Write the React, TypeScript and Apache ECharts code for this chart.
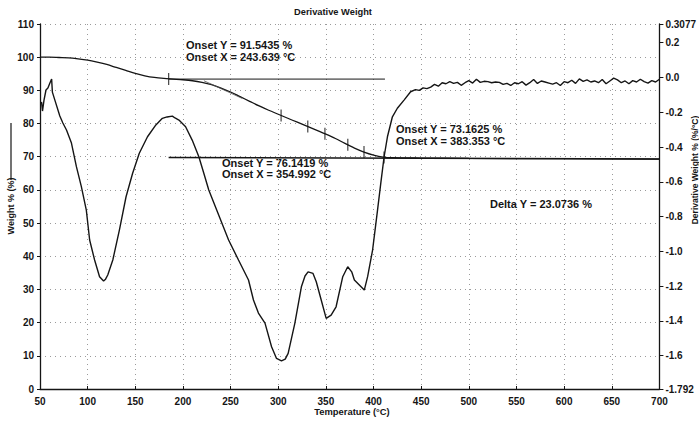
import { useEffect, useRef } from "react";
import * as echarts from "echarts";

// Thermogravimetric curve: temperature (°C) vs remaining weight (%)
const weightTemp = [50, 60, 70, 80, 90, 100, 110, 120, 130, 140, 150, 160, 170, 180, 190, 200, 210, 220, 230, 240, 250, 260, 270, 280, 290, 300, 310, 320, 330, 340, 350, 360, 370, 380, 390, 400, 410, 420, 450, 500, 600, 700];
const weightPct = [100, 100, 99.9, 99.8, 99.5, 99.1, 98.5, 97.8, 96.9, 96.0, 95.1, 94.4, 93.9, 93.6, 93.4, 93.2, 92.9, 92.4, 91.7, 90.7, 89.5, 88.1, 86.7, 85.3, 84.0, 82.8, 81.6, 80.4, 79.2, 78.0, 76.8, 75.5, 74.0, 72.6, 71.4, 70.5, 69.9, 69.7, 69.6, 69.5, 69.4, 69.3];

// Derivative weight curve (%/°C)
const derivTemp = [51.6, 52.6, 54.2, 56.3, 58.3, 60.4, 62.2, 63.0, 65.6, 70.8, 74.0, 77.8, 83.0, 88.2, 93.4, 98.6, 102.1, 107.3, 112.5, 116.7, 118.8, 121.1, 126.4, 133.3, 140.3, 147.2, 154.2, 162.8, 171.6, 178.4, 183.3, 188.9, 191.7, 195.8, 202.8, 209.7, 216.7, 221.9, 227.1, 237.5, 247.9, 258.3, 268.8, 274.0, 279.2, 286.1, 293.0, 298.2, 303.4, 307.3, 310.4, 317.4, 324.3, 328.1, 331.3, 336.5, 339.9, 345.1, 350.3, 355.5, 360.7, 367.7, 372.9, 377.1, 379.9, 385.1, 390.3, 393.8, 399.0, 404.2, 407.6, 411.1, 414.6, 419.8, 425.0, 432.0, 438.9, 444, 448, 452, 456, 460, 464, 468, 472, 476, 480, 484, 488, 492, 496, 500, 504, 508, 512, 516, 520, 524, 528, 532, 536, 540, 544, 548, 552, 556, 560, 564, 568, 572, 576, 580, 584, 588, 592, 596, 600, 604, 608, 612, 616, 620, 624, 628, 632, 636, 640, 644, 648, 652, 656, 660, 664, 668, 672, 676, 680, 684, 688, 692, 696, 700];
const derivValue = [-0.14, -0.193, -0.13, -0.072, -0.061, -0.032, -0.009, -0.084, -0.13, -0.222, -0.262, -0.302, -0.377, -0.513, -0.628, -0.763, -0.935, -1.05, -1.146, -1.171, -1.16, -1.136, -1.05, -0.878, -0.686, -0.551, -0.436, -0.341, -0.273, -0.235, -0.227, -0.222, -0.233, -0.245, -0.283, -0.36, -0.456, -0.551, -0.647, -0.791, -0.935, -1.05, -1.165, -1.28, -1.355, -1.413, -1.549, -1.616, -1.63, -1.62, -1.587, -1.414, -1.204, -1.142, -1.118, -1.127, -1.175, -1.28, -1.386, -1.367, -1.319, -1.146, -1.089, -1.118, -1.165, -1.194, -1.223, -1.146, -0.993, -0.763, -0.609, -0.456, -0.341, -0.226, -0.177, -0.13, -0.082, -0.07, -0.074, -0.06, -0.064, -0.055, -0.04, -0.05, -0.03, -0.036, -0.024, -0.034, -0.028, -0.045, -0.03, -0.018, -0.032, -0.01, -0.028, -0.022, -0.024, -0.03, -0.026, -0.028, -0.04, -0.034, -0.046, -0.03, -0.036, -0.024, -0.044, -0.03, -0.012, -0.034, -0.02, -0.026, -0.032, -0.038, -0.03, -0.046, -0.024, -0.03, -0.016, -0.034, -0.008, -0.022, -0.014, -0.026, -0.02, -0.03, -0.012, -0.036, -0.02, -0.004, -0.014, -0.03, -0.02, -0.036, -0.018, -0.026, -0.01, -0.024, -0.032, -0.018, -0.026, -0.01];

// Onset construction lines (baselines and first-step tangent)
const baselineUpperTemp = [185, 412];
const baselineUpperPct = [93.4, 93.4];
const baselineLowerTemp = [185, 700];
const baselineLowerPct = [69.8, 69.3];
const tangentTemp = [222, 262];
const tangentPct = [92.9, 87.6];

// Cursor marks along the weight curve
const markTemp = [185, 303, 331, 349, 373, 390, 411];
const markPct = [93.4, 82.4, 79.1, 76.9, 73.6, 71.4, 69.8];

// Axis ticks
const rightTicks = [0.3077, 0.2, 0, -0.2, -0.4, -0.6, -0.8, -1.0, -1.2, -1.4, -1.6, -1.792];
const rightMin = -1.792;
const rightMax = 0.3077;

const titleText = "Derivative Weight";
const xName = "Temperature (°C)";
const leftName = "Weight % (%)";
const rightName = "Derivative Weight % (%/°C)";
const onsetTexts = [
  ["Onset Y = 91.5435 %", "Onset X = 243.639 °C"],
  ["Onset Y = 73.1625 %", "Onset X = 383.353 °C"],
  ["Onset Y = 76.1419 %", "Onset X = 354.992 °C"],
];
const deltaText = "Delta Y = 23.0736 %";

const zip = (a: number[], b: number[]) => a.map((v, i) => [v, b[i]]);

const FONT = "Liberation Sans, Arial, sans-serif";
const INK = "#151515";

export default function App() {
  const ref = useRef<HTMLDivElement>(null);

  useEffect(() => {
    if (!ref.current) return;
    const chart = echarts.init(ref.current, null, { renderer: "svg" });

    const labelStyle = { color: INK, fontSize: 10, fontWeight: "bold" as const, fontFamily: FONT };
    const annot = (x: number, y: number, text: string, size = 11) => ({
      type: "text",
      x,
      y,
      style: { text, fill: INK, font: `bold ${size}px ${FONT}`, textVerticalAlign: "middle" },
    });
    const gridLine = { show: true, lineStyle: { color: "#9a9a9a", type: [1, 4], width: 1 } };

    chart.setOption({
      animation: false,
      backgroundColor: "#ffffff",
      grid: { left: 40, right: 35, top: 24, bottom: 32, containLabel: false },
      xAxis: {
        type: "value",
        min: 50,
        max: 700,
        interval: 50,
        axisLine: { show: true, lineStyle: { color: INK, width: 1.3 } },
        axisTick: { show: true, inside: true, length: 3, lineStyle: { color: INK } },
        axisLabel: { ...labelStyle, margin: 7 },
        splitLine: gridLine,
      },
      yAxis: [
        {
          type: "value",
          min: 0,
          max: 110,
          interval: 10,
          axisLine: { show: true, lineStyle: { color: INK, width: 1.3 } },
          axisTick: { show: true, length: 3, lineStyle: { color: INK } },
          axisLabel: { ...labelStyle, margin: 6 },
          splitLine: gridLine,
        },
        {
          type: "value",
          position: "right",
          min: rightMin,
          max: rightMax,
          axisLine: { show: true, lineStyle: { color: INK, width: 1.3 } },
          axisTick: { show: true, length: 4, lineStyle: { color: INK }, customValues: rightTicks },
          axisLabel: {
            ...labelStyle,
            margin: 6,
            customValues: rightTicks,
            formatter: (v: number) => {
              if (Math.abs(v - rightMax) < 1e-6) return "0.3077";
              if (Math.abs(v - rightMin) < 1e-6) return "-1.792";
              return v.toFixed(1);
            },
          },
          splitLine: { show: false },
        },
      ],
      series: [
        {
          type: "line",
          name: "Weight",
          yAxisIndex: 0,
          data: zip(weightTemp, weightPct),
          showSymbol: false,
          smooth: 0.3,
          lineStyle: { color: INK, width: 1.3 },
          z: 3,
        },
        {
          type: "line",
          name: "Derivative Weight",
          yAxisIndex: 1,
          data: zip(derivTemp, derivValue),
          showSymbol: false,
          lineStyle: { color: INK, width: 1.4 },
          z: 3,
        },
        {
          type: "line",
          yAxisIndex: 0,
          data: zip(baselineUpperTemp, baselineUpperPct),
          showSymbol: false,
          lineStyle: { color: INK, width: 1 },
        },
        {
          type: "line",
          yAxisIndex: 0,
          data: zip(baselineLowerTemp, baselineLowerPct),
          showSymbol: false,
          lineStyle: { color: INK, width: 1.5 },
        },
        {
          type: "line",
          yAxisIndex: 0,
          data: zip(tangentTemp, tangentPct),
          showSymbol: false,
          lineStyle: { color: "#555", width: 0.8 },
        },
        {
          type: "scatter",
          yAxisIndex: 0,
          data: zip(markTemp, markPct),
          symbol: "rect",
          symbolSize: [1.2, 12],
          itemStyle: { color: INK },
          z: 4,
        },
      ],
      graphic: [
        {
          type: "text",
          x: 333,
          y: 12,
          style: { text: titleText, fill: INK, font: `bold 9.3px ${FONT}`, textAlign: "center", textVerticalAlign: "middle" },
        },
        {
          type: "text",
          x: 352,
          y: 411,
          style: { text: xName, fill: INK, font: `bold 9.4px ${FONT}`, textAlign: "center", textVerticalAlign: "middle" },
        },
        {
          type: "text",
          x: 11,
          y: 206,
          rotation: Math.PI / 2,
          style: { text: leftName, fill: INK, font: `bold 9px ${FONT}`, textAlign: "center", textVerticalAlign: "middle" },
        },
        {
          type: "line",
          shape: { x1: 11, y1: 123, x2: 11, y2: 180 },
          style: { stroke: INK, lineWidth: 1.2 },
        },
        {
          type: "text",
          x: 695,
          y: 170,
          rotation: Math.PI / 2,
          style: { text: rightName, fill: INK, font: `bold 8.5px ${FONT}`, textAlign: "center", textVerticalAlign: "middle" },
        },
        annot(186, 45, onsetTexts[0][0]),
        annot(186, 57, onsetTexts[0][1]),
        annot(396, 129, onsetTexts[1][0]),
        annot(396, 141, onsetTexts[1][1]),
        annot(222, 163, onsetTexts[2][0]),
        annot(222, 174, onsetTexts[2][1]),
        annot(490, 204, deltaText),
      ],
    });

    return () => chart.dispose();
  }, []);

  return <div ref={ref} style={{ position: "fixed", left: 0, top: 0, width: 699, height: 421 }} />;
}
